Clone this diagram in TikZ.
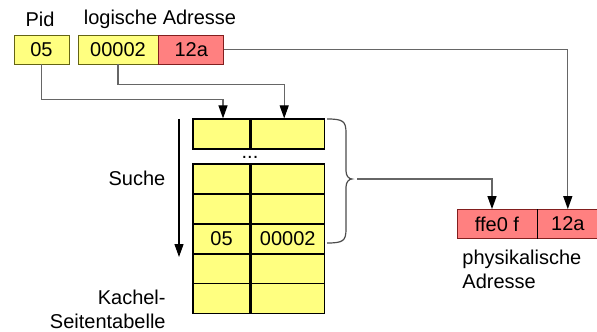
\documentclass[tikz,border=0pt]{standalone}
\usepackage{fontspec}
\setmainfont{Liberation Sans}
\usetikzlibrary{arrows.meta,positioning}

\definecolor{gelb}{RGB}{255,255,128}
\definecolor{rot}{RGB}{255,128,128}
\definecolor{oliv}{RGB}{100,100,20}
\definecolor{dunkelrot}{RGB}{130,30,30}

\tikzset{
  feld/.style={draw,rectangle,inner sep=0pt,minimum height=14.5pt,font=\fontsize{10}{12}\selectfont},
  gfeld/.style={feld,fill=gelb,draw=oliv},
  rfeld/.style={feld,fill=rot,draw=dunkelrot},
  tfeld/.style={feld,fill=gelb,draw=black,semithick,minimum height=15pt},
  txt/.style={font=\fontsize{10}{12}\selectfont,inner sep=0pt},
  verb/.style={->,draw=black!60,semithick}
}

\begin{document}
\begin{tikzpicture}[x=0.5pt,y=-0.5pt,>={Triangle[length=6.5pt,width=4.5pt,color=black]}]
\useasboundingbox (0,0) rectangle (597,331);

% logische Adresse
\node[gfeld,minimum width=27.5pt] (pid) at (41.5,49.5) {05};
\node[gfeld,minimum width=40pt] (lseite) at (118,49.5) {00002};
\node[rfeld,minimum width=32.5pt,right=0pt of lseite] (loff) {12a};
\node[txt] (pidtxt) at (40,19) {Pid};
\node[txt] (ladrtxt) at (160,19) {logische Adresse};

% Kachel-Seitentabelle
\foreach \i/\y/\a/\b in {0/134//,1/179//,2/209//,3/239/05/00002,4/269//,5/298.5//}{
  \node[tfeld,minimum width=28.5pt] (k\i) at (221.5,\y) {\a};
  \node[tfeld,minimum width=36.5pt,right=0pt of k\i] (s\i) {\b};
}
\node[txt] (dots) at (250,157) {...};

\node[txt] (such) at (137,178) {Suche};
\node[txt,align=right,anchor=north east] (tabtxt) at (166,290) {Kachel-\\Seitentabelle};
\coordinate (such1) at (179,119);
\coordinate (such2) at (179,257);
\draw[->,semithick] (such1) -- (such2);

% physikalische Adresse
\node[rfeld,minimum width=40pt] (pkachel) at (497,224) {ffe0 f};
\node[rfeld,minimum width=30pt,right=0pt of pkachel] (poff) {12a};
\draw[black] (pkachel.north east) -- (pkachel.south east);
\node[txt,align=left,anchor=north west] (padrtxt) at (462,250) {physikalische\\Adresse};

% Klammer
\coordinate (kl1) at (327,119);
\coordinate (kl2) at (327,243);
\coordinate (klspitze) at (352,179);
\draw[black!70,semithick] (kl1) .. controls (343,119) and (346,121) .. (346,133) -- (346,171)
  .. controls (346,176) and (349,179) .. (klspitze)
  .. controls (349,179) and (346,182) .. (346,187) -- (346,229)
  .. controls (346,241) and (343,243) .. (kl2);
\coordinate (klende) at (357,179);

% Verbindungen
\draw[verb] (pid.south) -- ++(0,35) -| ([xshift=0.75pt]k0.north);
\draw[verb] (lseite.south) -- ++(0,20) -| ([xshift=-1.75pt]s0.north);
\draw[verb] (loff.east) -| (poff.north);
\draw[verb] (klende) -| ([xshift=-2.5pt]pkachel.north);
\end{tikzpicture}
\end{document}
